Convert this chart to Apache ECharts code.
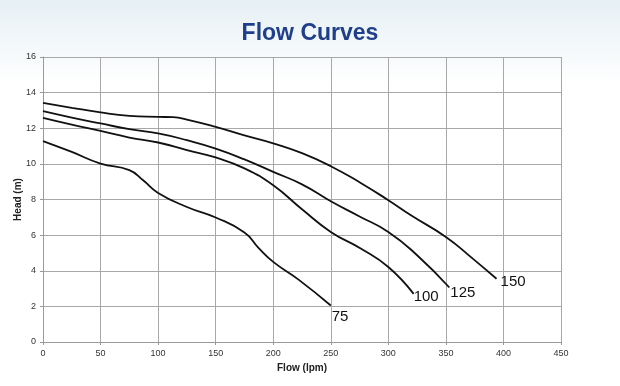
<!DOCTYPE html>
<html><head><meta charset="utf-8">
<script src="https://cdn.jsdelivr.net/npm/echarts@6/dist/echarts.min.js"></script>
<style>html,body{margin:0;padding:0;background:#fff}#c{width:620px;height:386px}</style>
</head><body><div id="c"></div>
<script>
const title = 'Flow Curves';
const xName = 'Flow (lpm)';
const yName = 'Head (m)';
const curveNames = ['75', '100', '125', '150'];
const curve75 = [[0,11.28],[25,10.67],[50,10.02],[75,9.65],[87,9.08],[100,8.37],[125,7.58],[150,6.99],[175,6.15],[187,5.3],[200,4.5],[222,3.5],[250,2.05]];
const curve100 = [[0,12.58],[25,12.2],[50,11.85],[75,11.48],[100,11.2],[125,10.77],[150,10.36],[175,9.75],[200,8.8],[225,7.45],[250,6.18],[276,5.25],[300,4.21],[322,2.7]];
const curve125 = [[0,12.96],[25,12.6],[50,12.27],[75,11.95],[100,11.71],[125,11.33],[150,10.86],[175,10.25],[200,9.55],[225,8.85],[250,7.9],[275,7.05],[300,6.18],[325,4.87],[353,3.06]];
const curve150 = [[0,13.43],[25,13.15],[50,12.89],[75,12.7],[100,12.64],[113,12.62],[125,12.49],[150,12.08],[175,11.6],[200,11.15],[225,10.6],[250,9.87],[276,8.93],[300,7.96],[320,7.1],[350,5.9],[371,4.81],[394,3.55]];
const curves = [curve75, curve100, curve125, curve150];
const labelOffsets = [[-2,11],[-3,3],[-2,5],[1,3]];

const chart = echarts.init(document.getElementById('c'), null, {renderer:'canvas'});
chart.setOption({
  animation:false,
  backgroundColor:'#ffffff',
  graphic:[{type:'rect', z:-10, silent:true, shape:{x:0,y:0,width:620,height:386},
    style:{fill:new echarts.graphic.LinearGradient(0,0,0,1,[{offset:0,color:'#e6f0f5'},{offset:0.22,color:'#ffffff'},{offset:1,color:'#ffffff'}])}}],
  title:{text:title,left:'center',top:17,
    textStyle:{fontFamily:"'Liberation Sans',Arial,sans-serif",fontWeight:'bold',fontSize:23,color:'#1f3f8a'}},
  grid:{left:43,right:59,top:57,bottom:44,containLabel:false},
  xAxis:{type:'value',min:0,max:450,interval:50,name:xName,nameLocation:'middle',nameGap:21,
    nameTextStyle:{fontFamily:'Liberation Sans, Arial',fontWeight:'bold',fontSize:10,color:'#222'},
    axisLine:{show:true,lineStyle:{color:'#999',width:1}},
    axisTick:{show:true,length:3,lineStyle:{color:'#999'}},
    axisLabel:{fontFamily:'Liberation Sans, Arial',fontSize:9,color:'#333',margin:7},
    splitLine:{show:true,lineStyle:{color:'#a8a8a8',width:1}}},
  yAxis:{type:'value',min:0,max:16,interval:2,name:yName,nameLocation:'middle',nameGap:20,nameRotate:90,
    nameMoveOverlap:false,
    nameTextStyle:{fontFamily:'Liberation Sans, Arial',fontWeight:'bold',fontSize:10,color:'#222'},
    axisLine:{show:true,lineStyle:{color:'#999',width:1}},
    axisTick:{show:true,length:3,lineStyle:{color:'#999'}},
    axisLabel:{fontFamily:'Liberation Sans, Arial',fontSize:9,color:'#333',margin:7},
    splitLine:{show:true,lineStyle:{color:'#a8a8a8',width:1}}},
  series:curves.map((d,i)=>({
    type:'line',name:curveNames[i],data:d,smooth:0.5,showSymbol:false,symbol:'none',
    lineStyle:{color:'#111',width:1.8},
    endLabel:{show:true,formatter:curveNames[i],offset:labelOffsets[i],distance:3,
      fontFamily:'Liberation Sans, Arial',fontSize:15,color:'#111'}
  }))
});
</script></body></html>
